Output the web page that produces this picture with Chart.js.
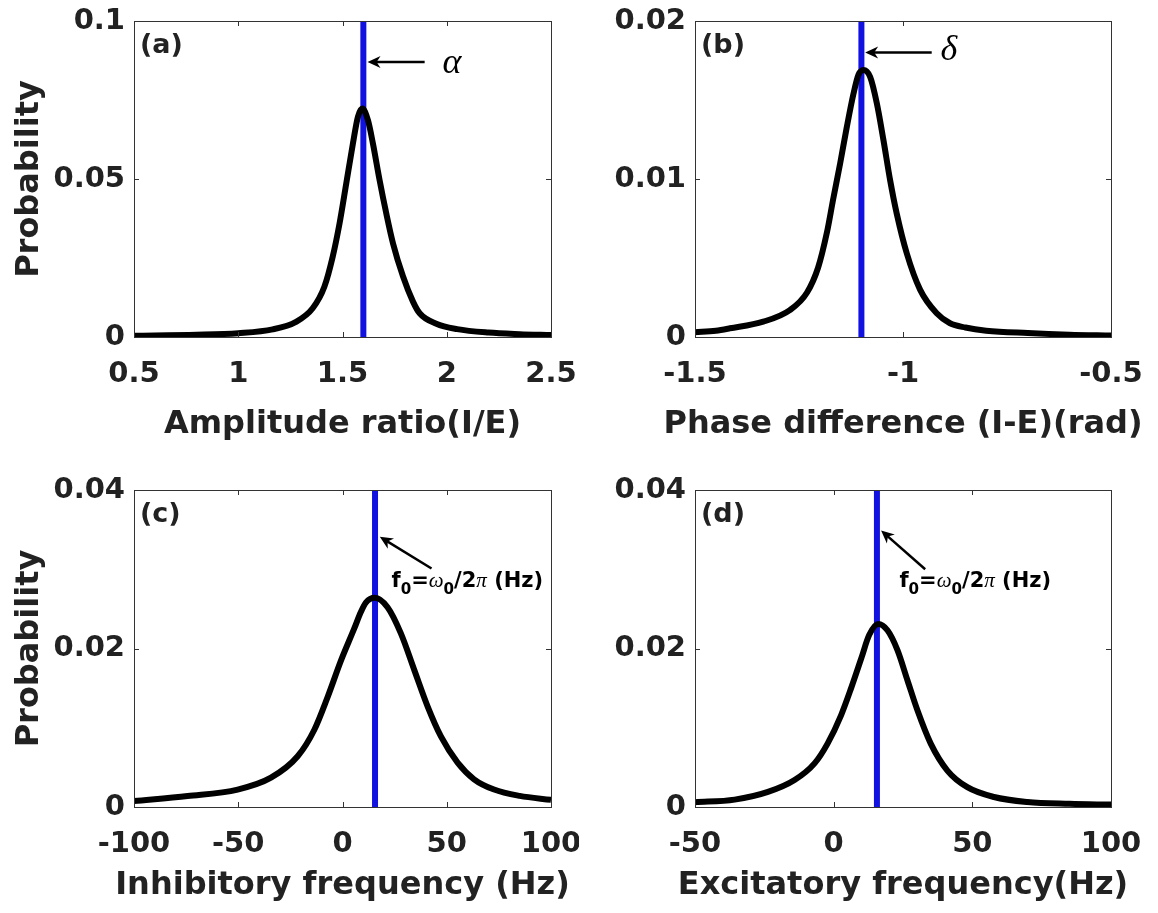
<!DOCTYPE html>
<html>
<head>
<meta charset="utf-8">
<script src="https://cdn.jsdelivr.net/npm/chart.js@4.4.1/dist/chart.umd.min.js"></script>
<style>
body { margin: 0; background: #fff; }
#wrap { position: relative; width: 1158px; height: 913px; }
.panel { position: absolute; }
</style>
</head>
<body>
<div id="wrap">
  <div class="panel" style="left:0;top:0"><canvas id="chartA" width="579" height="456"></canvas></div>
  <div class="panel" style="left:579px;top:0"><canvas id="chartB" width="579" height="456"></canvas></div>
  <div class="panel" style="left:0;top:456px"><canvas id="chartC" width="579" height="457"></canvas></div>
  <div class="panel" style="left:579px;top:456px"><canvas id="chartD" width="579" height="457"></canvas></div>
</div>
<script>
// (a) amplitude ratio I/E
const ampX = [0.5, 0.8, 1.0, 1.165, 1.277, 1.357, 1.413, 1.453, 1.486, 1.518, 1.55, 1.574, 1.595, 1.622, 1.646, 1.678, 1.71, 1.742, 1.79, 1.838, 1.87, 1.95, 2.05, 2.2, 2.35, 2.5];
const ampP = [0.0004, 0.0007, 0.0012, 0.0024, 0.0048, 0.0091, 0.0159, 0.0254, 0.036, 0.0486, 0.0612, 0.0697, 0.0723, 0.0686, 0.0612, 0.0496, 0.0391, 0.0297, 0.0192, 0.0112, 0.0075, 0.0042, 0.0025, 0.0014, 0.0009, 0.0006];
const alphaVal = 1.6;
const ampTicksX = [0.5, 1, 1.5, 2, 2.5];
const ampTicksY = [0, 0.05, 0.1];

// (b) phase difference I-E
const phaseX = [-1.5, -1.45, -1.416, -1.336, -1.272, -1.231, -1.204, -1.183, -1.168, -1.151, -1.135, -1.119, -1.107, -1.095, -1.079, -1.063, -1.047, -1.031, -1.015, -0.991, -0.959, -0.919, -0.887, -0.85, -0.8, -0.7, -0.6, -0.5];
const phaseP = [0.0003, 0.0004, 0.00055, 0.00097, 0.0017, 0.0028, 0.0044, 0.0066, 0.0087, 0.011, 0.0133, 0.0154, 0.0166, 0.0169, 0.01646, 0.0148, 0.01246, 0.00993, 0.0078, 0.0053, 0.003, 0.0015, 0.00087, 0.0006, 0.0004, 0.00025, 0.00015, 0.0001];
const deltaVal = -1.1;
const phaseTicksX = [-1.5, -1, -0.5];
const phaseTicksY = [0, 0.01, 0.02];

// (c) inhibitory frequency
const inhX = [-100, -74.3, -50.3, -34.3, -21.5, -13.5, -7.1, -0.7, 5.6, 8.8, 11.2, 15.5, 21.6, 28, 34.4, 40.8, 47.2, 55.2, 63.1, 72.7, 85, 100];
const inhP = [0.00075, 0.00138, 0.0022, 0.0037, 0.0064, 0.00975, 0.0139, 0.0185, 0.0225, 0.0246, 0.0258, 0.0264, 0.0252, 0.0219, 0.0173, 0.0127, 0.0089, 0.0056, 0.0035, 0.0022, 0.0014, 0.0009];
const inhTicksX = [-100, -50, 0, 50, 100];

// (d) excitatory frequency
const excX = [-50, -35.7, -23.7, -14.1, -6.9, -2.2, 2.7, 6.3, 9.9, 12.8, 16.1, 19.4, 23, 26.6, 30.2, 35, 41, 48.2, 57.8, 69.8, 85, 100];
const excP = [0.0006, 0.00093, 0.0019, 0.0034, 0.0055, 0.008, 0.0116, 0.0150, 0.0187, 0.0217, 0.0231, 0.0223, 0.0198, 0.016, 0.0122, 0.008, 0.0046, 0.0025, 0.00126, 0.00063, 0.0004, 0.0003];
const excTicksX = [-50, 0, 50, 100];
const freqTicksY = [0, 0.02, 0.04];
const f0Val = 15.6;

const INK = '#222222';
const SANS = '"DejaVu Sans", Arial, sans-serif';
const SERIF = '"Liberation Serif", "Times New Roman", serif';

function fmt(v) {
  return String(parseFloat(v.toFixed(4)));
}

function arrow(ctx, x1, y1, x2, y2) {
  // line from (x1,y1) with a notched head at (x2,y2)
  const a = Math.atan2(y2 - y1, x2 - x1);
  const len = 13, half = 6;
  ctx.save();
  ctx.strokeStyle = '#000';
  ctx.fillStyle = '#000';
  ctx.lineWidth = 2.5;
  ctx.beginPath();
  ctx.moveTo(x1, y1);
  ctx.lineTo(x2 - Math.cos(a) * len * 0.6, y2 - Math.sin(a) * len * 0.6);
  ctx.stroke();
  ctx.translate(x2, y2);
  ctx.rotate(a);
  ctx.beginPath();
  ctx.moveTo(0, 0);
  ctx.lineTo(-len, -half);
  ctx.lineTo(-len * 0.7, 0);
  ctx.lineTo(-len, half);
  ctx.closePath();
  ctx.fill();
  ctx.restore();
}

// draws runs of text one after another, subscripts dropped and shrunk
function richText(ctx, x, y, runs, size) {
  let cx = x;
  runs.forEach(r => {
    const s = r.sub ? size * 0.72 : size;
    ctx.font = (r.greek ? 'italic ' : 'bold ') + s + 'px ' + (r.greek ? SERIF : SANS);
    ctx.fillText(r.t, cx, r.sub ? y + size * 0.32 : y);
    cx += ctx.measureText(r.t).width;
  });
}

const boxPlugin = {
  id: 'boxframe',
  afterDatasetsDraw(chart, args, opts) {
    const ctx = chart.ctx;
    const a = chart.chartArea;
    const xs = chart.scales.x, ys = chart.scales.y;
    ctx.save();
    ctx.strokeStyle = '#333';
    ctx.lineWidth = 1;
    ctx.strokeRect(Math.round(a.left) + 0.5, Math.round(a.top) + 0.5, Math.round(a.right - a.left), Math.round(a.bottom - a.top));
    ctx.beginPath();
    xs.ticks.forEach(t => {
      const px = Math.round(xs.getPixelForValue(t.value)) + 0.5;
      ctx.moveTo(px, a.bottom); ctx.lineTo(px, a.bottom - 5);
      ctx.moveTo(px, a.top); ctx.lineTo(px, a.top + 5);
    });
    ys.ticks.forEach(t => {
      const py = Math.round(ys.getPixelForValue(t.value)) + 0.5;
      ctx.moveTo(a.left, py); ctx.lineTo(a.left + 5, py);
      ctx.moveTo(a.right, py); ctx.lineTo(a.right - 5, py);
    });
    ctx.stroke();

    // x axis title, allowed to run wider than the axis
    ctx.fillStyle = INK;
    ctx.font = 'bold 32px ' + SANS;
    ctx.textAlign = 'center';
    ctx.textBaseline = 'alphabetic';
    ctx.fillText(opts.titleX, (a.left + a.right) / 2, a.bottom + opts.titleBase);

    // panel tag
    ctx.font = 'bold 27px ' + SANS;
    ctx.textAlign = 'left';
    ctx.fillText(opts.tag, a.left + 6, a.top + 32);

    // arrow and its label, placed in data coordinates
    if (opts.arrow) {
      const [fx, fy, tx, ty] = opts.arrow;
      arrow(ctx, xs.getPixelForValue(fx), ys.getPixelForValue(fy), xs.getPixelForValue(tx), ys.getPixelForValue(ty));
    }
    if (opts.symbol) {
      ctx.fillStyle = '#000';
      ctx.font = 'italic 36px ' + SERIF;
      ctx.textBaseline = 'middle';
      ctx.fillText(opts.symbol.text, xs.getPixelForValue(opts.symbol.x), ys.getPixelForValue(opts.symbol.y));
    }
    if (opts.freqLabel) {
      ctx.fillStyle = '#000';
      ctx.textBaseline = 'alphabetic';
      richText(ctx, xs.getPixelForValue(opts.freqLabel.x), ys.getPixelForValue(opts.freqLabel.y), [
        { t: 'f' }, { t: '0', sub: true }, { t: '=' }, { t: 'ω', greek: true }, { t: '0', sub: true },
        { t: '/2' }, { t: 'π', greek: true }, { t: ' (Hz)' }
      ], 21);
    }
    ctx.restore();
  }
};

function makePanel(id, p) {
  const ctx = document.getElementById(id).getContext('2d');
  const yMin = p.ticksY[0], yMax = p.ticksY[p.ticksY.length - 1];
  return new Chart(ctx, {
    type: 'line',
    data: {
      datasets: [{
        data: p.xs.map((x, i) => ({ x: x, y: p.ys[i] })),
        borderColor: '#000',
        borderWidth: 6,
        pointRadius: 0,
        cubicInterpolationMode: 'monotone',
        fill: false
      }, {
        data: [{ x: p.mark, y: yMin }, { x: p.mark, y: yMax }],
        borderColor: '#1212e0',
        borderWidth: 6,
        pointRadius: 0,
        fill: false
      }]
    },
    options: {
      responsive: false,
      animation: false,
      events: [],
      layout: { padding: { left: 0, top: p.padTop, right: p.padRight, bottom: 0 } },
      plugins: {
        legend: { display: false },
        tooltip: { enabled: false },
        boxframe: p.notes
      },
      scales: {
        x: {
          type: 'linear',
          min: p.ticksX[0],
          max: p.ticksX[p.ticksX.length - 1],
          afterBuildTicks: s => { s.ticks = p.ticksX.map(v => ({ value: v })); },
          afterFit: s => { s.height = p.xHeight; s.paddingLeft = 0; s.paddingRight = 0; },
          grid: { display: false, drawTicks: false },
          border: { display: false },
          ticks: { autoSkip: false, maxRotation: 0, padding: 20, color: INK, font: { family: SANS, size: 29, weight: 'bold' }, callback: v => fmt(v) }
        },
        y: {
          type: 'linear',
          min: yMin,
          max: yMax,
          afterBuildTicks: s => { s.ticks = p.ticksY.map(v => ({ value: v })); },
          afterFit: s => { s.width = p.yWidth; s.paddingTop = 0; s.paddingBottom = 0; },
          grid: { display: false, drawTicks: false },
          border: { display: false },
          ticks: { autoSkip: false, padding: 9, color: INK, font: { family: SANS, size: 29, weight: 'bold' }, callback: v => fmt(v) },
          title: { display: !!p.titleY, text: p.titleY || '', color: INK, padding: { top: 10, bottom: 0 }, font: { family: SANS, size: 32, weight: 'bold' } }
        }
      }
    },
    plugins: [boxPlugin]
  });
}

makePanel('chartA', {
  xs: ampX, ys: ampP, mark: alphaVal, ticksX: ampTicksX, ticksY: ampTicksY, titleY: 'Probability',
  padTop: 21, padRight: 28, xHeight: 119, yWidth: 134,
  notes: { tag: '(a)', titleX: 'Amplitude ratio(I/E)', titleBase: 96,
    arrow: [1.894, 0.087, 1.62, 0.087], symbol: { text: 'α', x: 1.98, y: 0.0865 } }
});

makePanel('chartB', {
  xs: phaseX, ys: phaseP, mark: deltaVal, ticksX: phaseTicksX, ticksY: phaseTicksY, titleY: null,
  padTop: 21, padRight: 47, xHeight: 119, yWidth: 116,
  notes: { tag: '(b)', titleX: 'Phase difference (I-E)(rad)', titleBase: 96,
    arrow: [-0.931, 0.0180, -1.091, 0.0180], symbol: { text: 'δ', x: -0.91, y: 0.0181 } }
});

makePanel('chartC', {
  xs: inhX, ys: inhP, mark: f0Val, ticksX: inhTicksX, ticksY: freqTicksY, titleY: 'Probability',
  padTop: 34, padRight: 28, xHeight: 106, yWidth: 134,
  notes: { tag: '(c)', titleX: 'Inhibitory frequency (Hz)', titleBase: 87,
    arrow: [42.7, 0.0301, 17.9, 0.0341], freqLabel: { x: 23.5, y: 0.0277 } }
});

makePanel('chartD', {
  xs: excX, ys: excP, mark: f0Val, ticksX: excTicksX, ticksY: freqTicksY, titleY: null,
  padTop: 34, padRight: 47, xHeight: 106, yWidth: 116,
  notes: { tag: '(d)', titleX: 'Excitatory frequency(Hz)', titleBase: 87,
    arrow: [33, 0.0300, 17.1, 0.0349], freqLabel: { x: 23.7, y: 0.0277 } }
});
</script>
</body>
</html>
